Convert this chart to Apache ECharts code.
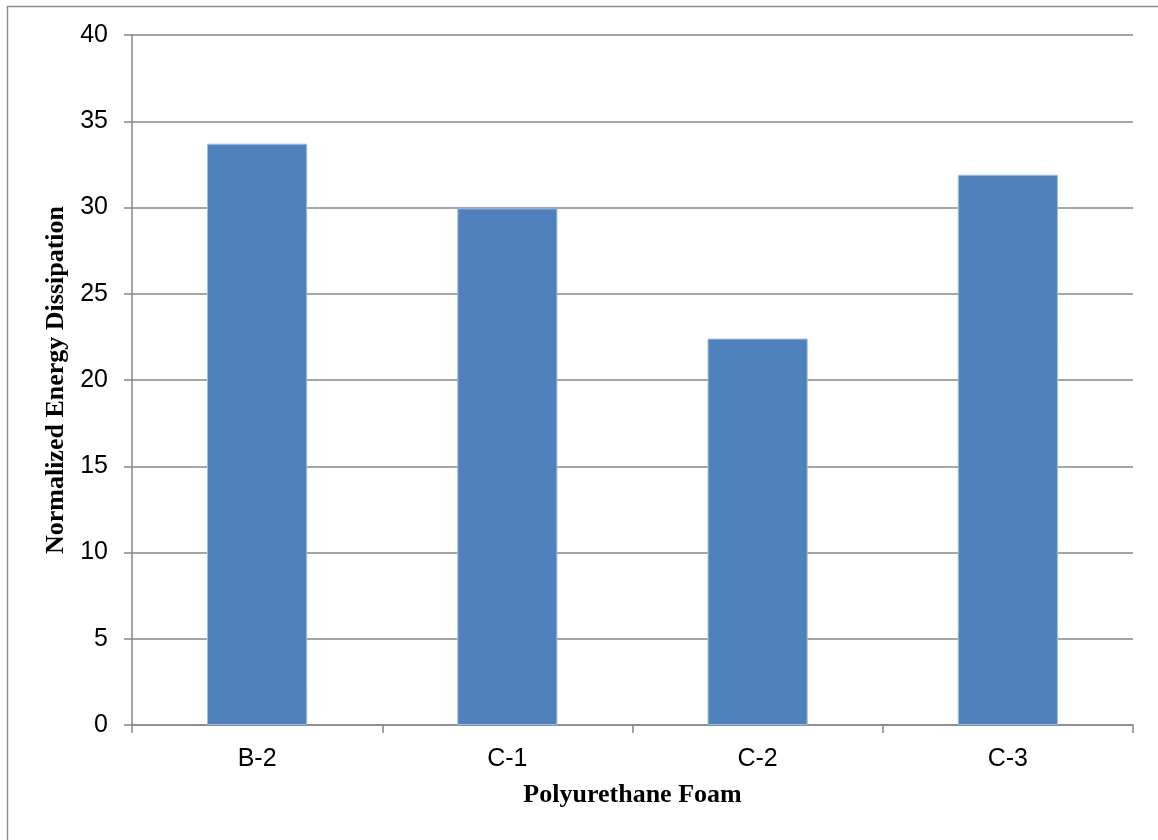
<!DOCTYPE html>
<html>
<head>
<meta charset="utf-8">
<style>
  html, body { margin: 0; padding: 0; background: #fff; }
  #chart { width: 1158px; height: 840px; }
</style>
<script src="https://cdn.jsdelivr.net/npm/echarts@6/dist/echarts.min.js"></script>
</head>
<body>
<div id="chart"></div>
<script>
// Foam samples and their normalized energy dissipation
const categories = ['B-2', 'C-1', 'C-2', 'C-3'];
const dissipation = [33.7, 29.95, 22.4, 31.9];
const yTicks = { min: 0, max: 40, interval: 5 };

const chart = echarts.init(document.getElementById('chart'), null, { renderer: 'canvas' });

const gridColor = '#878787';

chart.setOption({
  animation: false,
  backgroundColor: '#ffffff',
  graphic: [{
    type: 'rect',
    shape: { x: 7.5, y: 6.5, width: 1170, height: 860 },
    style: { fill: 'none', stroke: '#8c8c8c', lineWidth: 1.5 },
    silent: true
  }],
  grid: { left: 132, right: 25, top: 35, bottom: 115, containLabel: false },
  xAxis: {
    type: 'category',
    data: categories,
    name: 'Polyurethane Foam',
    nameLocation: 'middle',
    nameGap: 57,
    nameTextStyle: {
      fontFamily: 'Liberation Serif', fontWeight: 'bold', fontSize: 26, color: '#000'
    },
    axisLine: { lineStyle: { color: gridColor, width: 1.5 } },
    axisTick: { show: true, alignWithLabel: false, length: 8, lineStyle: { color: gridColor, width: 1.5 } },
    axisLabel: { fontFamily: 'Liberation Sans', fontSize: 25, color: '#000', margin: 22 }
  },
  yAxis: {
    type: 'value',
    min: yTicks.min,
    max: yTicks.max,
    interval: yTicks.interval,
    name: 'Normalized Energy Dissipation',
    nameLocation: 'middle',
    nameGap: 58,
    nameTextStyle: {
      fontFamily: 'Liberation Serif', fontWeight: 'bold', fontSize: 26, color: '#000'
    },
    axisLine: { show: true, lineStyle: { color: gridColor, width: 1.5 } },
    axisTick: { show: true, inside: false, length: 8, lineStyle: { color: gridColor, width: 1.5 } },
    axisLabel: { fontFamily: 'Liberation Sans', fontSize: 25, color: '#000', margin: 24 },
    splitLine: { show: true, lineStyle: { color: gridColor, width: 1.5 } }
  },
  series: [{
    type: 'bar',
    data: dissipation,
    barWidth: '40%',
    itemStyle: { color: '#4F81BD', borderColor: '#9CBDE4', borderWidth: 1 }
  }]
});
</script>
</body>
</html>
